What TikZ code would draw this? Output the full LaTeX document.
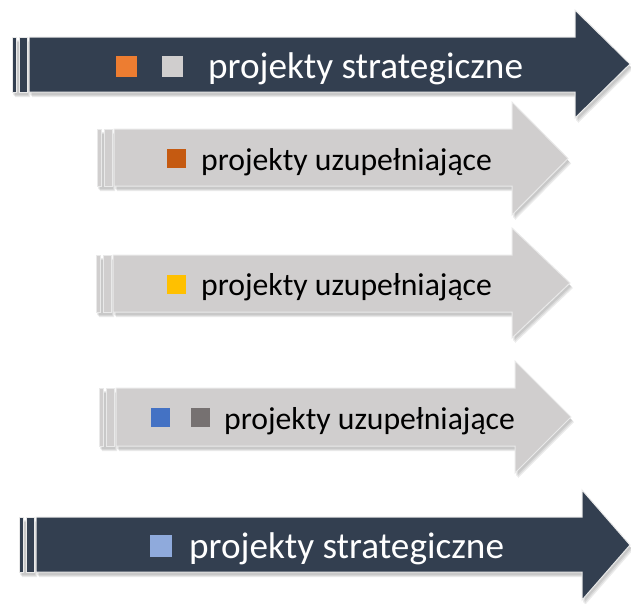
\documentclass[tikz,border=0pt]{standalone}
\usepackage{fontspec}
\setmainfont{Carlito}
\usepackage{tikz}
\definecolor{darkbar}{HTML}{333F50}
\definecolor{lightbar}{HTML}{D0CECE}
\definecolor{edgeline}{HTML}{E9E9E9}
\definecolor{sqorange}{HTML}{ED7D31}
\definecolor{sqgrey}{HTML}{D0CECE}
\definecolor{sqbrown}{HTML}{C55A11}
\definecolor{sqyellow}{HTML}{FFC000}
\definecolor{sqblue}{HTML}{4472C4}
\definecolor{sqdark}{HTML}{767171}
\definecolor{sqsky}{HTML}{8FAADC}
\tikzstyle{bigtext} = [inner sep=0pt, anchor=base west, text=white, font=\fontsize{37.2}{40}\selectfont]
\tikzstyle{smalltext} = [inner sep=0pt, anchor=base west, text=black, font=\fontsize{31.7}{35}\selectfont]
\tikzstyle{sq} = [inner sep=0pt, anchor=south west, minimum size=19pt]
\tikzset{barshape/.style={draw=edgeline, line width=1pt, line join=miter}}

% colour, left x, shaft end, tip x, body top, body bottom, head top, head bottom
\newcommand{\projarrow}[8]{%
  % shadow
  \foreach \s in {1,2,3}
    \fill[black, opacity=0.08, shift={(\s,\s+2)}] (#2,#5) rectangle ({#2+15},#6)
      ({#2+17},#5) -- (#3,#5) -- (#3,#7) -- (#4,{(#7+#8)/2}) -- (#3,#8) -- (#3,#6) -- ({#2+17},#6) -- cycle;
  % stripes and body
  \draw[barshape, fill=#1] (#2,#5) rectangle ({#2+4},#6);
  \draw[barshape, fill=#1] ({#2+7},#5) rectangle ({#2+15},#6);
  \draw[barshape, fill=#1] ({#2+17},#5) -- (#3,#5) -- (#3,#7) -- (#4,{(#7+#8)/2}) -- (#3,#8) -- (#3,#6) -- ({#2+17},#6) -- cycle;
}

\begin{document}
\begin{tikzpicture}[x=1pt, y=-1pt]
\useasboundingbox (0,0) rectangle (631,603);

\projarrow{darkbar}{12}{575}{630}{37}{92}{10}{118}
\projarrow{lightbar}{97}{512}{568}{129}{186}{102}{215}
\projarrow{lightbar}{96}{512}{570}{255}{312}{228}{338}
\projarrow{lightbar}{99}{515}{571}{388}{446}{361}{473}
\projarrow{darkbar}{19}{582}{630}{517}{572}{490}{600}

% strategic, top
\node[sq, fill=sqorange, minimum size=21pt] (sqa1) at (116,77) {};
\node[sq, fill=sqgrey, minimum size=21pt] (sqa2) at (162,77) {};
\node[bigtext] (texta) at (208,78) {projekty strategiczne};

% supplementary
\node[sq, fill=sqbrown] (sqb1) at (167,168) {};
\node[smalltext] (textb) at (201,170) {projekty uzupełniające};

\node[sq, fill=sqyellow] (sqc1) at (167,294) {};
\node[smalltext] (textc) at (201,295) {projekty uzupełniające};

\node[sq, fill=sqblue] (sqd1) at (151,427) {};
\node[sq, fill=sqdark] (sqd2) at (191,427) {};
\node[smalltext] (textd) at (224,429) {projekty uzupełniające};

% strategic, bottom
\node[sq, fill=sqsky, minimum size=22pt] (sqe1) at (150,557) {};
\node[bigtext] (texte) at (189,558) {projekty strategiczne};
\end{tikzpicture}
\end{document}
